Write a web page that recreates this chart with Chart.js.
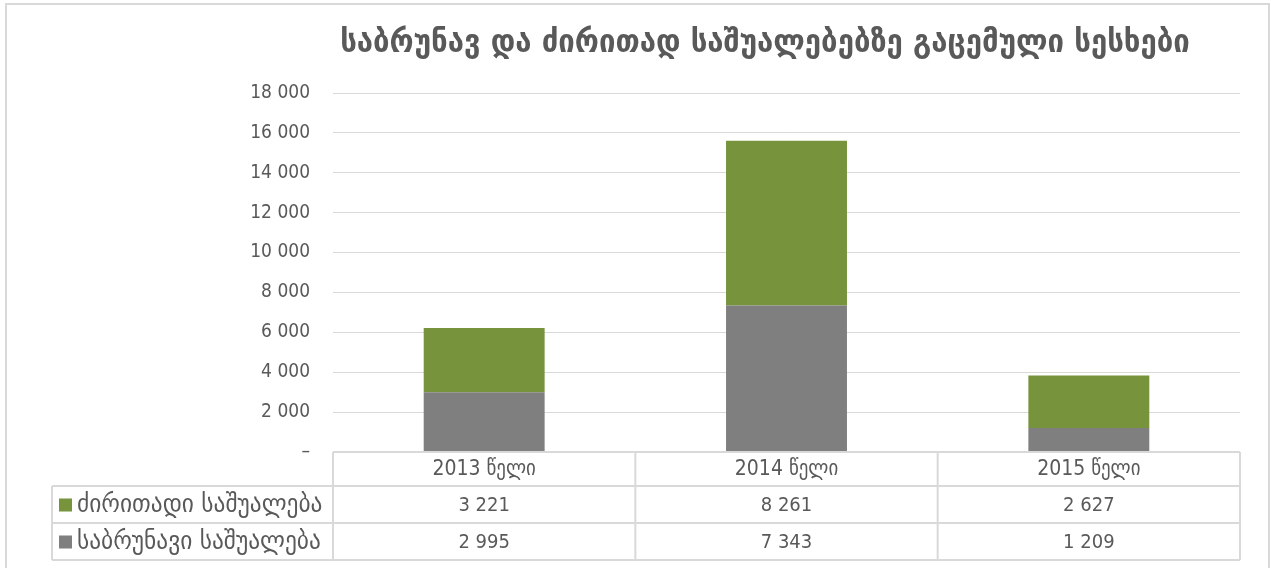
<!DOCTYPE html>
<html>
<head>
<meta charset="utf-8">
<script src="https://cdn.jsdelivr.net/npm/chart.js@4"></script>
<style>
  html, body { margin: 0; padding: 0; background: #ffffff; }
  #wrap { width: 1271px; height: 568px; position: relative; }
</style>
</head>
<body>
<div id="wrap"><canvas id="loansChart" width="1271" height="568"></canvas></div>
<script>
// სათაური და მონაცემები
const chartTitle = 'საბრუნავ და ძირითად საშუალებებზე გაცემული სესხები';
const years = ['2013 წელი', '2014 წელი', '2015 წელი'];
const fixedLabel = 'ძირითადი საშუალება';
const workingLabel = 'საბრუნავი საშუალება';
const fixedAssets = [3221, 8261, 2627];
const workingAssets = [2995, 7343, 1209];
const yTicks = [0, 2000, 4000, 6000, 8000, 10000, 12000, 14000, 16000, 18000];

const GREEN = '#77933C';
const GRAY = '#7F7F7F';
const TEXT = '#595959';
const LINE = '#d9d9d9';
const FONT = "'DejaVu Sans Condensed', 'DejaVu Sans', sans-serif";

const fmt = (v) => v === 0 ? '–' : v.toLocaleString('en-US').replace(/,/g, ' ');

// სათაური, ჩარჩო და მონაცემთა ცხრილი
const extrasPlugin = {
  id: 'extras',
  afterDraw(chart) {
    const ctx = chart.ctx;
    const ca = chart.chartArea;
    const xs = chart.scales.x;
    ctx.save();

    // outer frame
    ctx.strokeStyle = LINE;
    ctx.lineWidth = 2;
    ctx.strokeRect(6, 4, 1263, 580);

    // title
    ctx.fillStyle = TEXT;
    ctx.textAlign = 'center';
    ctx.textBaseline = 'middle';
    let size = 28;
    ctx.font = `bold ${size}px ${FONT}`;
    const w = ctx.measureText(chartTitle).width;
    size = Math.min(34, size * 850 / w);
    ctx.font = `bold ${size}px ${FONT}`;
    ctx.fillText(chartTitle, 765, 44);

    // table grid
    const colW = (ca.right - ca.left) / years.length;
    const rows = [ca.bottom, ca.bottom + 34, ca.bottom + 71, ca.bottom + 108];
    const tableLeft = 52;
    ctx.strokeStyle = LINE;
    ctx.lineWidth = 2;
    ctx.beginPath();
    ctx.moveTo(ca.left, rows[0]); ctx.lineTo(ca.right, rows[0]);
    for (let r = 1; r < rows.length; r++) {
      ctx.moveTo(tableLeft, rows[r]); ctx.lineTo(ca.right, rows[r]);
    }
    ctx.moveTo(tableLeft, rows[1]); ctx.lineTo(tableLeft, rows[3]);
    for (let c = 0; c <= years.length; c++) {
      const x = ca.left + c * colW;
      ctx.moveTo(x, rows[0]); ctx.lineTo(x, rows[3]);
    }
    ctx.stroke();

    // header + values
    ctx.fillStyle = TEXT;
    ctx.font = `20px ${FONT}`;
    ctx.textAlign = 'center';
    years.forEach((y, i) => {
      const cx = xs.getPixelForValue(i);
      ctx.font = `21px ${FONT}`;
      ctx.fillText(y, cx, (rows[0] + rows[1]) / 2 + 1);
      ctx.font = `20px ${FONT}`;
      ctx.fillText(fmt(fixedAssets[i]), cx, (rows[1] + rows[2]) / 2 + 1);
      ctx.fillText(fmt(workingAssets[i]), cx, (rows[2] + rows[3]) / 2 + 1);
    });

    // legend keys in first column
    const keys = [[fixedLabel, GREEN], [workingLabel, GRAY]];
    ctx.textAlign = 'left';
    ctx.font = `20px ${FONT}`;
    const lw = ctx.measureText(workingLabel).width;
    const lsize = Math.min(26, 20 * 250 / lw);
    ctx.font = `${lsize}px ${FONT}`;
    keys.forEach(([label, color], k) => {
      const cy = (rows[k + 1] + rows[k + 2]) / 2;
      ctx.fillStyle = color;
      ctx.fillRect(59, cy - 6, 13, 13);
      ctx.fillStyle = TEXT;
      ctx.fillText(label, 77, cy + 1);
    });

    ctx.restore();
  }
};

new Chart(document.getElementById('loansChart').getContext('2d'), {
  type: 'bar',
  data: {
    labels: years,
    datasets: [
      {
        label: workingLabel,
        data: workingAssets,
        backgroundColor: GRAY,
        borderWidth: 0,
        barPercentage: 0.4,
        categoryPercentage: 1.0,
      },
      {
        label: fixedLabel,
        data: fixedAssets,
        backgroundColor: GREEN,
        borderWidth: 0,
        barPercentage: 0.4,
        categoryPercentage: 1.0,
      },
    ],
  },
  options: {
    responsive: false,
    animation: false,
    layout: { padding: { top: 93, right: 31, bottom: 116, left: 0 } },
    plugins: {
      legend: { display: false },
      title: { display: false },
      tooltip: { enabled: false },
    },
    scales: {
      x: {
        stacked: true,
        display: false,
      },
      y: {
        stacked: true,
        min: 0,
        max: 18000,
        afterFit: (scale) => { scale.width = 333; },
        afterBuildTicks: (scale) => { scale.ticks = yTicks.map((v) => ({ value: v })); },
        ticks: {
          color: TEXT,
          padding: 23,
          font: { family: FONT, size: 19 },
          callback: (v) => fmt(v),
        },
        grid: {
          color: LINE,
          lineWidth: 1,
          drawTicks: false,
        },
        border: { display: false },
      },
    },
  },
  plugins: [extrasPlugin],
});
</script>
</body>
</html>
